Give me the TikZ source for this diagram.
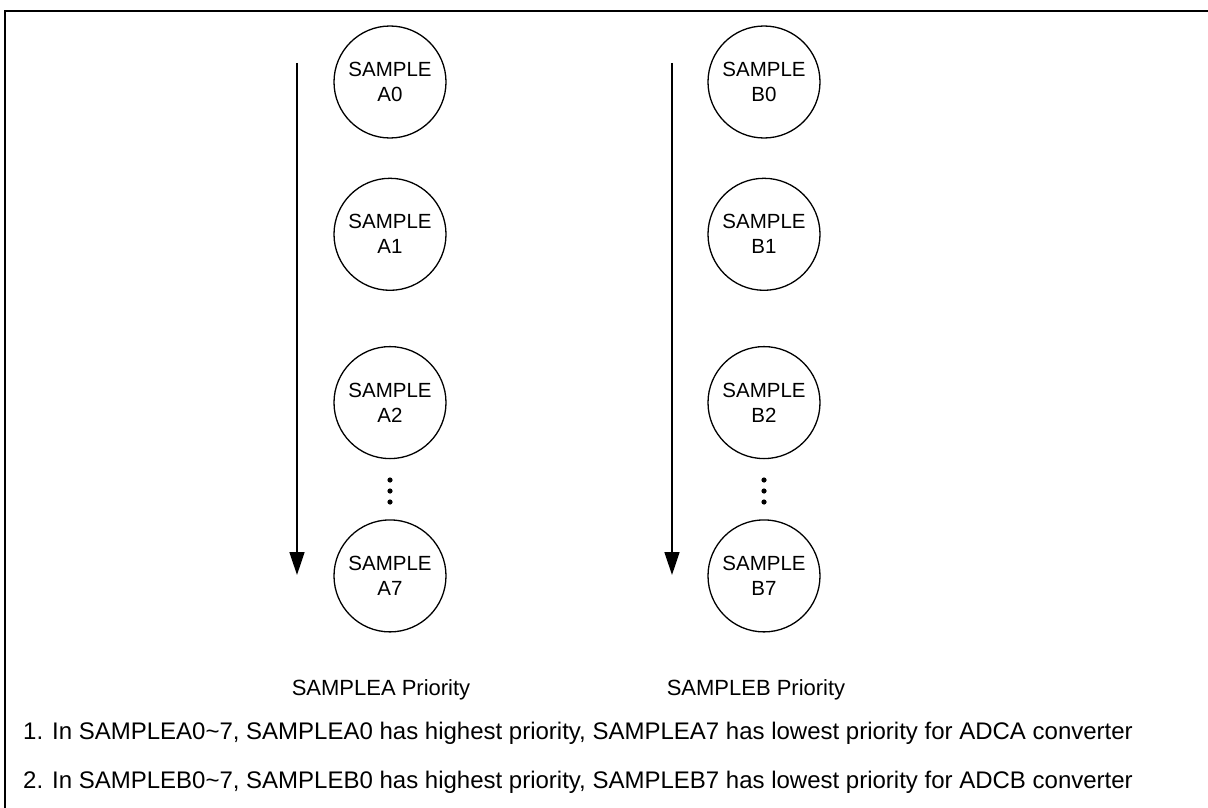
\documentclass[tikz,border=0pt]{standalone}
\usepackage{fontspec}
\setmainfont{Liberation Sans}
\usetikzlibrary{arrows.meta,positioning}

\begin{document}
\begin{tikzpicture}[x=1pt, y=-1pt,
  smp/.style={circle, draw, line width=1.3pt, minimum size=112pt,
              inner sep=0pt, align=center,
              font=\fontsize{20.5}{25}\selectfont},
  prio/.style={line width=1.5pt, -{Triangle[width=15pt,length=23pt]}},
  lbl/.style={inner sep=0pt, font=\fontsize{22}{26}\selectfont},
  note/.style={inner sep=0pt, font=\fontsize{24}{28}\selectfont},
  frame/.style={line width=2.6pt}
]
  \useasboundingbox (0,0) rectangle (1208,808);
  \draw[frame] (1208,11) -- (5,11) -- (5,808);

  % SAMPLEA column
  \node[smp] (a0) at (390,82) {SAMPLE\\A0};
  \node[smp, below=39pt of a0] (a1) {SAMPLE\\A1};
  \node[smp, below=55pt of a1] (a2) {SAMPLE\\A2};
  \node[smp, below=60pt of a2] (a7) {SAMPLE\\A7};
  \fill (390,480) circle (2.6pt);
  \fill (390,491) circle (2.6pt);
  \fill (390,502) circle (2.6pt);
  \coordinate (atop) at (297,63);
  \coordinate (aend) at (297,575);
  \draw[prio] (atop) -- (aend);
  \node[lbl, anchor=base] (aprio) at (381,695) {SAMPLEA Priority};

  % SAMPLEB column
  \node[smp] (b0) at (764,82) {SAMPLE\\B0};
  \node[smp, below=39pt of b0] (b1) {SAMPLE\\B1};
  \node[smp, below=55pt of b1] (b2) {SAMPLE\\B2};
  \node[smp, below=60pt of b2] (b7) {SAMPLE\\B7};
  \fill (764,480) circle (2.6pt);
  \fill (764,491) circle (2.6pt);
  \fill (764,502) circle (2.6pt);
  \coordinate (btop) at (672,63);
  \coordinate (bend) at (672,575);
  \draw[prio] (btop) -- (bend);
  \node[lbl, anchor=base] (bprio) at (756,695) {SAMPLEB Priority};

  % notes
  \node[note, anchor=base west] (note1) at (23,739)
    {1. In SAMPLEA0\textasciitilde 7, SAMPLEA0 has highest priority, SAMPLEA7 has lowest priority for ADCA converter};
  \node[note, anchor=base west] (note2) at (23,788)
    {2. In SAMPLEB0\textasciitilde 7, SAMPLEB0 has highest priority, SAMPLEB7 has lowest priority for ADCB converter};
\end{tikzpicture}
\end{document}
